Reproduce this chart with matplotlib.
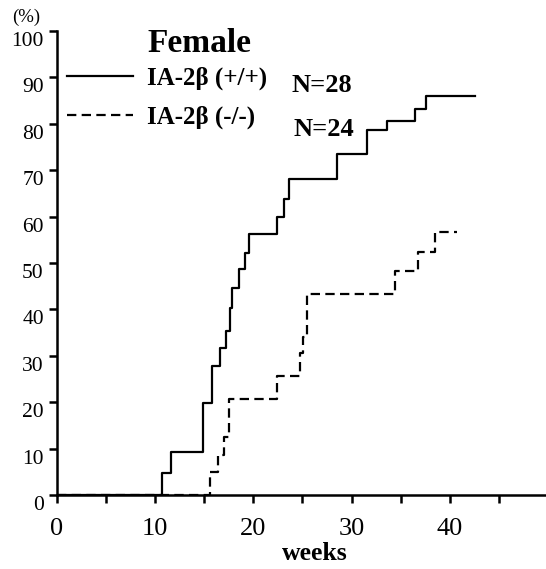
import numpy as np
import matplotlib.pyplot as plt
from matplotlib.transforms import ScaledTranslation

# Curvas cumulativas (semanas, %)
wk_wt = [0, 10.7, 11.6, 14.9, 15.8, 16.6, 17.2, 17.6, 17.8, 18.5, 19.1, 19.6,
         22.4, 23.1, 23.6, 28.5, 31.6, 33.6, 36.5, 37.6]
pct_wt = [0, 4.8, 9.3, 19.8, 27.8, 31.6, 35.4, 40.2, 44.7, 48.6, 52.2, 56.2,
          60.0, 63.9, 68.2, 73.5, 78.7, 80.5, 83.2, 86.0]
end_wt = 42.6

wk_ko = [0, 15.6, 16.4, 17.0, 17.5, 22.4, 24.7, 25.1, 25.5, 34.4, 36.8, 38.5]
pct_ko = [0, 5.0, 8.6, 12.4, 20.6, 25.7, 30.7, 34.1, 43.3, 48.3, 52.4, 56.6]
end_ko = 40.7

labels = ['IA-2β (+/+)', 'IA-2β (-/-)']
n_txt = ['N=28', 'N=24']

serif = 'Liberation Serif'
plt.rcParams['font.family'] = [serif, 'DejaVu Serif']

fig = plt.figure(figsize=(5.46, 5.69), dpi=100)
ax = fig.add_axes([57/546, 74/569, 489/546, 464/569])

ax.step(wk_wt + [end_wt], pct_wt + [pct_wt[-1]], where='post',
        color='black', lw=1.6, label=labels[0])
ax.step(wk_ko + [end_ko], pct_ko + [pct_ko[-1]], where='post',
        color='black', lw=1.6, linestyle=(0, (4.2, 2.4)), label=labels[1])

ax.set_xlim(0, 49.8)
ax.set_ylim(0, 100)
ax.set_xticks([0, 10, 20, 30, 40])
ax.set_xticks([5, 15, 25, 35, 45], minor=True)
ax.set_yticks(np.arange(0, 101, 10))

for s in ['top', 'right']:
    ax.spines[s].set_visible(False)
for s in ['left', 'bottom']:
    ax.spines[s].set_linewidth(1.8)

ax.tick_params(axis='both', which='both', direction='out', width=1.8,
               length=5.5, colors='black')
ax.tick_params(axis='y', labelsize=15.5, pad=4)
ax.tick_params(axis='x', labelsize=19, pad=11)

# rótulos do eixo y um pouco abaixo das marcas
off = ScaledTranslation(0, -8/100, fig.dpi_scale_trans)
for lab in ax.get_yticklabels():
    lab.set_transform(lab.get_transform() + off)

ax.set_xlabel('weeks', fontsize=18.5, fontweight='bold')
ax.xaxis.set_label_coords(0.528, -0.102)

fig.text(26/546, 1 - 17/569, '(%)', fontsize=13.5, ha='center', va='center')

leg = ax.legend(loc='upper left', bbox_to_anchor=(10/489, 1 - 36/464),
                frameon=False, handlelength=2.65, handletextpad=0.55,
                labelspacing=0.6, borderaxespad=0, borderpad=0,
                prop={'family': serif, 'weight': 'bold', 'size': 18})

ax.text(90/489, 1 - (43-31)/464, 'Female', transform=ax.transAxes,
        fontsize=24, fontweight='bold', va='center', ha='left')
ax.text(234/489, 1 - (86-31)/464, n_txt[0], transform=ax.transAxes,
        fontsize=19, fontweight='bold', va='center', ha='left')
ax.text(236/489, 1 - (129-31)/464, n_txt[1], transform=ax.transAxes,
        fontsize=19, fontweight='bold', va='center', ha='left')

fig.savefig('out.png', dpi=100)
